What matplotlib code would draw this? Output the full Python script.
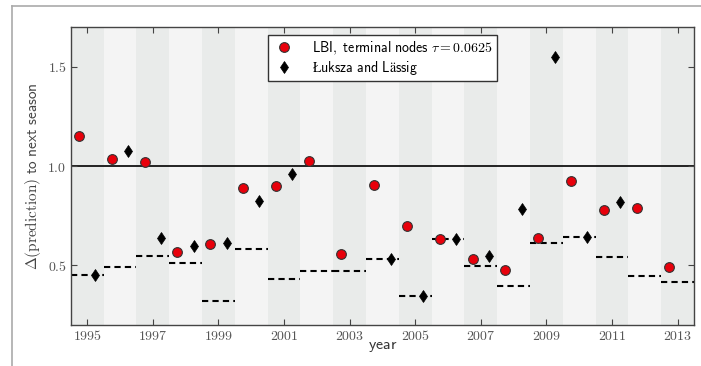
import matplotlib

matplotlib.use("Agg")
import matplotlib.pyplot as plt
import numpy as np
from matplotlib.lines import Line2D
from matplotlib.ticker import FormatStrFormatter

plt.rcParams["mathtext.fontset"] = "cm"
plt.rcParams["font.family"] = ["DejaVu Sans"]

# seasons and prediction distances to the next season
years = np.arange(1995, 2014)
lbi = [1.154, 1.037, 1.020, 0.570, 0.610, 0.888, 0.901, 1.024, 0.560, 0.905,
       0.698, 0.632, 0.531, 0.476, 0.638, 0.925, 0.781, 0.787, 0.491]
luksza = [0.451, 1.077, 0.637, 0.598, 0.612, 0.823, 0.958, np.nan, np.nan, 0.531,
          0.347, 0.632, 0.546, 0.786, 1.551, 0.643, 0.819, np.nan, np.nan]
best = [0.451, 0.492, 0.546, 0.511, 0.319, 0.581, 0.434, 0.471, 0.472, 0.531,
        0.347, 0.632, 0.498, 0.396, 0.615, 0.643, 0.543, 0.449, 0.416]

tick_grey = "#555555"

fig = plt.figure(figsize=(7.01, 3.66), dpi=100)
ax = fig.add_axes([0.1009, 0.112, 0.889, 0.814])

# alternating season bands
for y in years:
    ax.axvspan(y - 0.5, y + 0.5, color="#e9ebea" if y % 2 else "#f4f4f4",
               lw=0, zorder=0)

ax.axhline(1.0, color="black", lw=1.2, zorder=1)
ax.hlines(best, years - 0.5, years + 0.5, colors="black", lw=1.5,
          linestyles=(0, (3, 2)), zorder=2)
ax.plot(years - 0.25, lbi, "o", ms=7, mfc="#e8000b", mec="#333333", mew=0.8,
        ls="none", zorder=3,
        label=r"$\mathsf{LBI,\ terminal\ nodes}\ \tau = 0.0625$")
ax.plot(years + 0.25, luksza, "d", ms=6.5, mfc="black", mec="black", mew=0.5,
        ls="none", zorder=3, label=r"$\mathsf{Łuksza\ and\ Lässig}$")

ax.set_xlim(1994.5, 2013.5)
ax.set_ylim(0.2, 1.7)
ax.set_xticks(years[::2])
ax.set_yticks([0.5, 1.0, 1.5])
ax.xaxis.set_major_formatter(FormatStrFormatter(r"$%d$"))
ax.yaxis.set_major_formatter(FormatStrFormatter(r"$%.1f$"))
ax.tick_params(axis="both", direction="in", top=True, right=True, length=4,
               width=0.8, labelsize=10, labelcolor=tick_grey, color="#444444",
               pad=3)
for sp in ax.spines.values():
    sp.set_color("#444444")
    sp.set_linewidth(1.0)

ax.set_xlabel(r"$\mathsf{year}$", fontsize=11.5, color="#333333", labelpad=-3)
ax.set_ylabel(r"$\Delta(\mathrm{prediction})\ \mathsf{to\ next\ season}$",
              fontsize=11, color="#444444", labelpad=3)

leg = ax.legend(loc="upper center", fontsize=10, frameon=True, fancybox=False,
                borderaxespad=0.6, handletextpad=1.1, borderpad=0.3,
                labelspacing=0.12, handlelength=1.8)
leg.get_frame().set_edgecolor("#333333")
leg.get_frame().set_linewidth(1.0)
leg.get_frame().set_alpha(1.0)

# thin grey frame along the top and left of the page
fig.add_artist(Line2D([12 / 701, 1], [1 - 6 / 366] * 2, color="#aaaaaa",
                      lw=1.2, transform=fig.transFigure))
fig.add_artist(Line2D([12 / 701] * 2, [0, 1 - 6 / 366], color="#aaaaaa",
                      lw=1.2, transform=fig.transFigure))

fig.savefig("out.png", dpi=100)
